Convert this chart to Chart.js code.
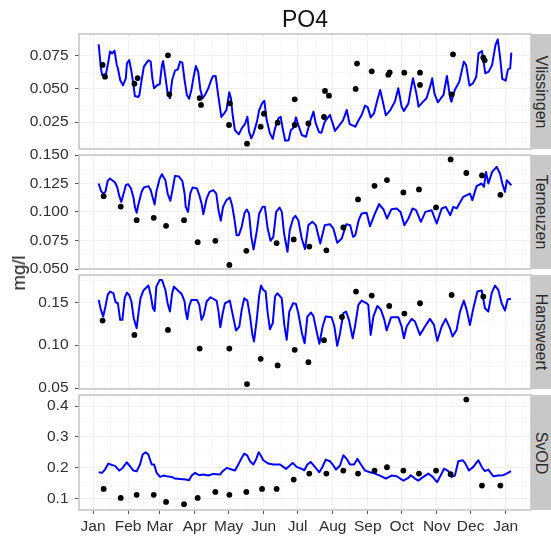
<!DOCTYPE html>
<html><head><meta charset="utf-8">
<script src="https://cdn.jsdelivr.net/npm/chart.js@4"></script>
<style>
html,body{margin:0;padding:0;background:#fff;overflow:hidden}
#wrap{position:relative;width:551px;height:536px;font-family:"Liberation Sans",Arial,sans-serif}
canvas{position:absolute;left:0}
.strip{position:absolute;left:531px;width:20px;background:#c8c8c8}
.strip span,.yl{position:absolute;white-space:nowrap;color:#2b2b2b}
.strip span{left:50%;top:50%;font-size:16px;transform:translate(-50%,-50%) rotate(90deg)}
.yl{left:19px;top:272.5px;font-size:18.5px;color:#111;transform:translate(-50%,-50%) rotate(-90deg)}
</style></head><body>
<div id="wrap"></div>
<script>
const title = "PO4";
const yTitle = "mg/l";
const monthDays = [0,31,59,90,120,151,181,212,243,273,304,334,365];
const monthLabels = ["Jan","Feb","Mar","Apr","May","Jun","Jul","Aug","Sep","Oct","Nov","Dec","Jan"];

const vlissingenDays = [5,7,8,11.5,13.6,15,17,19,21,22,24,26.5,29,30,32,34,36,37,40,41,43,45,47,49,51,52.5,54,57,59,61,62,64,66,68,70,72.5,75,77,79,81,83,85,87,89,91,93,95,97,99,102,104,106,108.5,110.5,113.5,116,118,120.5,122,123.5,125.5,127.6,129,131.5,134.4,136.5,138,140,142,145,147,149.5,151.5,153.6,156.5,159,161,164,166,168,170,173,175,177,179.5,181.6,184.6,188.4,190.4,193,195,197,200,202,205,209.6,212,214,217,221,224.4,227,232,235,237.6,240.6,243,245.6,248.5,251.5,254,256,259,263,267,270,273,275,279,281,283,286,288,292,295,299,300,302,305,310,313,316,317,320,324,328,330,333,336,339,341,344,347,350,353,356,358,360,362,365,367,369,370];
const vlissingenModel = [.0833,.0653,.0603,.061,.0703,.0778,.0765,.0785,.0678,.0653,.0565,.0525,.0578,.069,.0715,.0628,.0515,.0445,.0438,.0453,.0565,.0665,.069,.0713,.0703,.0578,.0503,.0528,.0533,.0678,.0708,.059,.0465,.0428,.0565,.0635,.0645,.0703,.0695,.0565,.0453,.0425,.049,.059,.067,.0628,.049,.0428,.0453,.0503,.0553,.0593,.0595,.0465,.0288,.0315,.034,.0473,.0428,.0303,.019,.017,.0158,.0203,.0235,.029,.0178,.0128,.0165,.0253,.034,.039,.041,.0265,.0165,.0125,.0203,.0278,.029,.019,.011,.0113,.019,.0203,.0285,.0228,.0153,.014,.0203,.0278,.0328,.024,.0173,.017,.0253,.0303,.024,.0183,.0215,.026,.034,.0235,.0215,.0265,.0303,.0373,.036,.0285,.0315,.0415,.049,.0415,.03,.034,.0403,.0503,.0365,.0333,.039,.049,.0578,.0465,.0365,.0403,.0428,.054,.0578,.0465,.0398,.0453,.0595,.0428,.0403,.049,.0553,.0703,.0678,.0523,.054,.059,.0765,.0783,.0615,.0628,.0678,.0828,.087,.074,.0573,.056,.0645,.0653,.077];
const vlissingenObsDays = [8.5,10.6,36.6,39.5,66.3,67.5,94.3,95.5,121,120.3,136.2,148.3,151.2,163.3,178.4,178.4,190.5,204.3,205.2,208.7,232.3,233.5,246.5,261.2,262.4,275.3,289.2,289.2,317.2,318.4,345.2,346.4];
const vlissingenObs = [.0678,.059,.0538,.058,.075,.0458,.043,.0378,.039,.0228,.0088,.0215,.0313,.0245,.042,.0228,.024,.0288,.0483,.0448,.0498,.0688,.063,.0605,.0623,.062,.062,.0528,.0458,.0758,.0733,.0713];
const vlissingenTicks = [.025,.05,.075];

const terneuzenDays = [5,7,9,11,13,15,17,19.5,21.5,23,25,27.5,29,31,33.6,36,37,38.6,40,43,45,49,51,53,54.5,56,59,61,64,66,68.4,70.5,72.5,76,79,81,82,84,86,88,92,94,96,97.6,100.5,103,106.4,109,111,113,115,118,121,123,125,127,129,131.5,134,136,138,140,142,145,147,150,152,154.5,157,159.5,162,165,167,169,172,174,177,179,181.6,184.6,187.5,190.5,194,197,201,205,209.6,212.6,216,220,224,227.4,230,232,235,237.6,242,245,249.4,253,257,260,264,268.6,272,275.4,279,282.7,285.7,290,294,299.5,304,308.4,312,316,318.7,321.6,327.5,333.4,335.5,339.3,343.7,345.8,347.6,349.7,353,357,360,362,364.4,366,370];
const terneuzenModel = [.125,.1186,.1162,.1177,.1273,.1294,.1279,.1259,.1215,.1148,.1089,.1177,.1235,.1244,.1206,.1118,.1045,.0993,.106,.1177,.1215,.1227,.1192,.1118,.1066,.1177,.1294,.1332,.1279,.1162,.1098,.1206,.1317,.1311,.1273,.1162,.1045,.1001,.1162,.1215,.1206,.1148,.1075,.0981,.1118,.1177,.1192,.1162,.1016,.0923,.1045,.1104,.1127,.106,.0943,.0797,.0797,.087,.0991,.1022,.0987,.0782,.0671,.0841,.0987,.1045,.1045,.0855,.0747,.0782,.1001,.1039,.1001,.0811,.0651,.0841,.0943,.0966,.0928,.0768,.0674,.0885,.0914,.0885,.0724,.0885,.0893,.0855,.073,.0768,.0893,.0885,.0782,.0797,.0928,.0987,.0993,.0876,.0987,.1069,.1022,.0943,.1025,.1031,.1001,.0885,.0943,.1031,.1016,.0914,.1001,.1016,.0899,.1031,.1045,.0972,.1045,.1031,.1133,.1162,.1104,.1227,.125,.1221,.1352,.125,.1352,.1396,.1338,.125,.1177,.1279,.1235];
const terneuzenObsDays = [9.4,24.5,38.6,53.7,64.6,80.5,92.6,108.2,120.6,135.6,162.4,177.5,191.3,206.4,221.4,234.4,249,260,274.5,288.3,303.4,316.3,330.2,344,360.3];
const terneuzenObs = [.1139,.1048,.0928,.0949,.0879,.0928,.0735,.0747,.0536,.0659,.0727,.0759,.0697,.0664,.0864,.111,.123,.128,.1172,.1198,.104,.1461,.1342,.1321,.1151];
const terneuzenTicks = [.05,.075,.1,.125,.15];

const hansweertDays = [5,7,9,11,13,15,18,20,22,24,26,28,30,32,34,36,38.6,40,42,44.5,49,51,53,54.5,56,59,61,64,66,68,70,71.6,74.6,78.4,81,82,83.4,85,87,92,94,96,98,100.5,104,109.4,111,112.6,114.7,116.7,121,123,126.5,129.4,131.5,133.8,136.5,138.9,141,142.4,144.8,147,148.6,150.6,152.7,154.5,156.5,159,161,163,166.9,169.2,171.3,173.6,177,179.5,181.6,184.8,187.2,189.6,192.8,194.9,197.2,200.2,203.1,205.8,211,213.5,216,218.5,221.4,223.8,226.4,229.7,231.7,234.7,237.6,242,243.5,245.6,248,251.5,254.7,257.7,259.7,263.7,270,273,275,277.4,281.8,284.8,289.2,293.6,298,301.6,304.5,308.4,311.9,315.7,318,321.6,324.6,328,330.5,333.4,336.4,340,343.8,346.7,349.6,352.6,355.5,358.5,361.4,364.4,366.8,369.7];
const hansweertModel = [.1527,.1411,.1333,.145,.1585,.1624,.1605,.15,.1488,.1295,.1295,.1547,.1612,.1585,.1508,.1314,.1198,.1353,.1547,.1636,.1694,.1585,.143,.1399,.1682,.176,.176,.1643,.1488,.1391,.1605,.1682,.1643,.1597,.1508,.1391,.1302,.145,.1527,.1527,.1469,.1295,.1353,.1508,.1558,.1516,.1391,.1209,.1372,.1488,.1519,.1391,.1171,.1217,.1411,.1547,.1519,.1333,.112,.1043,.1295,.1585,.1694,.1643,.1624,.1372,.1186,.1256,.1566,.1605,.1547,.1236,.1062,.1391,.1488,.1481,.1372,.1139,.1023,.1333,.138,.1341,.1198,.1016,.1217,.1333,.1326,.1217,.0992,.114,.1372,.1391,.1295,.1081,.1217,.1469,.1519,.1488,.1469,.112,.1333,.1457,.1411,.1295,.1171,.1326,.1326,.1217,.1081,.1217,.1306,.1275,.112,.1217,.1306,.1236,.105,.1217,.1306,.1198,.1101,.1178,.1391,.1519,.1411,.1236,.143,.1624,.1636,.143,.1391,.1605,.1694,.1643,.1488,.1403,.1535,.1539];
const hansweertObsDays = [8.5,36.6,66.3,94.3,120.6,136.2,148.3,163.3,178.4,190.5,204.3,220.2,232.6,246.5,262,275.4,289.2,317.2,345.2];
const hansweertObs = [.1287,.112,.1178,.0961,.0961,.0547,.0841,.0764,.0946,.0802,.1058,.1329,.1624,.1578,.1457,.1368,.1488,.1585,.1566];
const hansweertTicks = [.05,.1,.15];

const svodDays = [5,8,10.6,13.6,16.5,19.5,23.3,26.2,29.8,32.7,35.7,38.6,41.6,43.9,46.6,48.9,51.9,54,56.3,59.3,62.2,65.2,69.6,72.5,77,82.3,84.9,87.3,90.2,93.8,97.6,102,106.4,112.3,114.7,118.2,122.6,125.6,128.5,131.5,133.8,136.5,138.9,141.8,144.2,146.5,148.3,150.6,155,159.5,165.4,168.3,170.7,174.2,176.6,180.1,184.6,186.9,189.6,192.5,196.4,200.2,202.8,205.8,209.6,212,215,218.5,221.4,224.4,227.3,230.9,233.8,237,240.6,245,249.4,253.8,259.1,264.1,268.6,274.5,279,281,284.8,287.7,292.2,296.6,300.4,304.3,307.5,310.5,314.3,317.2,320.1,323.1,327,329,332.5,336.4,340.8,344.3,346.7,349.6,354,358.5,362.9,365.8,369.7];
const svodModel = [.1848,.1827,.1935,.213,.2087,.2054,.1902,.1989,.2173,.2043,.1902,.1881,.2098,.2423,.2498,.2423,.2098,.2098,.1827,.1697,.174,.1718,.1697,.1642,.1632,.161,.1588,.174,.1827,.1751,.1772,.174,.1794,.1772,.1881,.1989,.1935,.1902,.2098,.2314,.2455,.239,.2206,.2098,.226,.2498,.2401,.2238,.213,.2098,.2098,.2022,.1957,.2065,.2152,.2022,.1957,.1913,.2098,.2184,.2011,.1848,.2011,.226,.2206,.2098,.1935,.2065,.2401,.2282,.2098,.2098,.2282,.2098,.1902,.1848,.1805,.174,.1642,.174,.1718,.1577,.1664,.1751,.1642,.1577,.1697,.1805,.1697,.1523,.174,.1967,.1881,.1697,.174,.2206,.2238,.2152,.1902,.2022,.2238,.1989,.1881,.1935,.1718,.174,.1751,.1805,.1881];
const svodObsDays = [9.4,24.5,38.6,53.7,64.6,80.5,92.6,108.2,120.6,135.6,149.5,162.4,177.5,191.3,206.4,221.4,234.4,249,260,274.5,288.3,303.4,316.3,330.2,344,360.3];
const svodObs = [.1307,.1014,.1112,.1112,.0884,.0808,.1014,.1209,.1112,.1209,.1307,.1307,.161,.1805,.1805,.1902,.1805,.1902,.2011,.1902,.1805,.1902,.1783,.421,.1415,.1415];
const svodTicks = [.1,.2,.3,.4];

const stations = ["Vlissingen","Terneuzen","Hansweert","SvOD"];
const modelDays = [vlissingenDays,terneuzenDays,hansweertDays,svodDays];
const modelValues = [vlissingenModel,terneuzenModel,hansweertModel,svodModel];
const obsDays = [vlissingenObsDays,terneuzenObsDays,hansweertObsDays,svodObsDays];
const obsValues = [vlissingenObs,terneuzenObs,hansweertObs,svodObs];
const yTicks = [vlissingenTicks,terneuzenTicks,hansweertTicks,svodTicks];
const yDecimals = [3,3,2,1];
const yLimits = [[.0048,.091],[.05,.15],[.049,.1817],[.062,.436]];
const panelTops = [34,155,275,395];
const panelBottoms = [149,269,389,510];
const xLimits = [-12.4,387.4];
const extraMinorDays = [380];

const FONT = '"Liberation Sans", Arial, sans-serif';
const wrap = document.getElementById('wrap');

const panelFrame = {
  id:'panelFrame',
  afterDatasetsDraw(c){
    const a=c.chartArea, g=c.ctx;
    g.save(); g.strokeStyle='#c6c6c6'; g.lineWidth=1.6;
    g.strokeRect(a.left,a.top,a.right-a.left,a.bottom-a.top); g.restore();
  }
};

function withMinor(majors, lo, hi){
  const out = majors.map(v=>({value:v,major:true}));
  const step = majors[1]-majors[0];
  for(let v=majors[0]-step/2; v<hi; v+=step){ if(v>lo) out.push({value:+v.toFixed(5),major:false}); }
  return out.sort((a,b)=>a.value-b.value);
}

stations.forEach((name,i)=>{
  const last = i===3, first = i===0;
  const top = panelTops[i], bottom = panelBottoms[i];
  const padTop = first ? 0 : 10;
  const canvasTop = first ? 0 : top-10;
  const canvasBottom = last ? 536 : bottom+10;
  const cv = document.createElement('canvas');
  cv.style.top = canvasTop+'px';
  cv.width = 551; cv.height = canvasBottom-canvasTop;
  wrap.appendChild(cv);

  const strip = document.createElement('div');
  strip.className='strip';
  strip.style.top=top+'px'; strip.style.height=(bottom-top)+'px';
  const sp=document.createElement('span'); sp.textContent=name; strip.appendChild(sp);
  wrap.appendChild(strip);

  new Chart(cv,{
    type:'line',
    data:{datasets:[
      {type:'scatter',label:name+' observed',order:1,
       data:obsDays[i].map((d,k)=>({x:d,y:obsValues[i][k]})),
       pointRadius:2.9,pointBackgroundColor:'#000',pointBorderWidth:0,showLine:false,clip:false},
      {type:'line',label:name+' model',order:2,
       data:modelDays[i].map((d,k)=>({x:d,y:modelValues[i][k]})),
       borderColor:'#0000ff',borderWidth:2,pointRadius:0,tension:0,fill:false,borderJoinStyle:'round'}
    ]},
    options:{
      responsive:false,animation:false,devicePixelRatio:1,
      layout:{autoPadding:false,padding:{left:0,right:20,top:padTop,bottom:last?0:10}},
      plugins:{
        legend:{display:false},tooltip:{enabled:false},
        title:{display:first,text:title,fullSize:false,color:'#111',
          font:{family:FONT,size:23,weight:'normal',lineHeight:1.2},
          padding:{top:6.4,bottom:0}}
      },
      scales:{
        x:{type:'linear',min:xLimits[0],max:xLimits[1],
          afterBuildTicks(s){
            const t=monthDays.map(v=>({value:v,major:true}));
            for(let k=0;k<monthDays.length-1;k++) t.push({value:(monthDays[k]+monthDays[k+1])/2,major:false});
            extraMinorDays.forEach(v=>t.push({value:v,major:false}));
            s.ticks=t.sort((a,b)=>a.value-b.value);
          },
          afterFit(s){ s.height = last ? 26 : 0; s.paddingLeft=0; s.paddingRight=0; },
          border:{display:false},
          grid:{drawTicks:last,tickLength:4,
            color:c=>c.tick&&c.tick.major?'#efefef':'#f7f7f7',
            tickColor:c=>c.tick&&c.tick.major?'#555':'rgba(0,0,0,0)',lineWidth:1},
          ticks:{display:last,autoSkip:false,maxRotation:0,minRotation:0,padding:3,color:'#2e2e2e',
            font:{family:FONT,size:15.5},
            callback(v,idx,ts){ const k=monthDays.indexOf(v); return (ts[idx].major&&k>=0)?monthLabels[k]:''; }}
        },
        y:{type:'linear',min:yLimits[i][0],max:yLimits[i][1],
          afterBuildTicks(s){ s.ticks=withMinor(yTicks[i],yLimits[i][0],yLimits[i][1]); },
          afterFit(s){ s.width=79; s.paddingTop=0; s.paddingBottom=0; },
          border:{display:false},
          grid:{tickLength:4,
            color:c=>c.tick&&c.tick.major?'#efefef':'#f7f7f7',
            tickColor:c=>c.tick&&c.tick.major?'#555':'rgba(0,0,0,0)',lineWidth:1},
          ticks:{autoSkip:false,padding:6.5,color:'#2e2e2e',font:{family:FONT,size:15.5},
            callback(v,idx,ts){ return ts[idx].major?Number(v).toFixed(yDecimals[i]):''; }}
        }
      }
    },
    plugins:[panelFrame]
  });
});

const yl=document.createElement('div'); yl.className='yl'; yl.textContent=yTitle; wrap.appendChild(yl);
</script>
</body></html>
